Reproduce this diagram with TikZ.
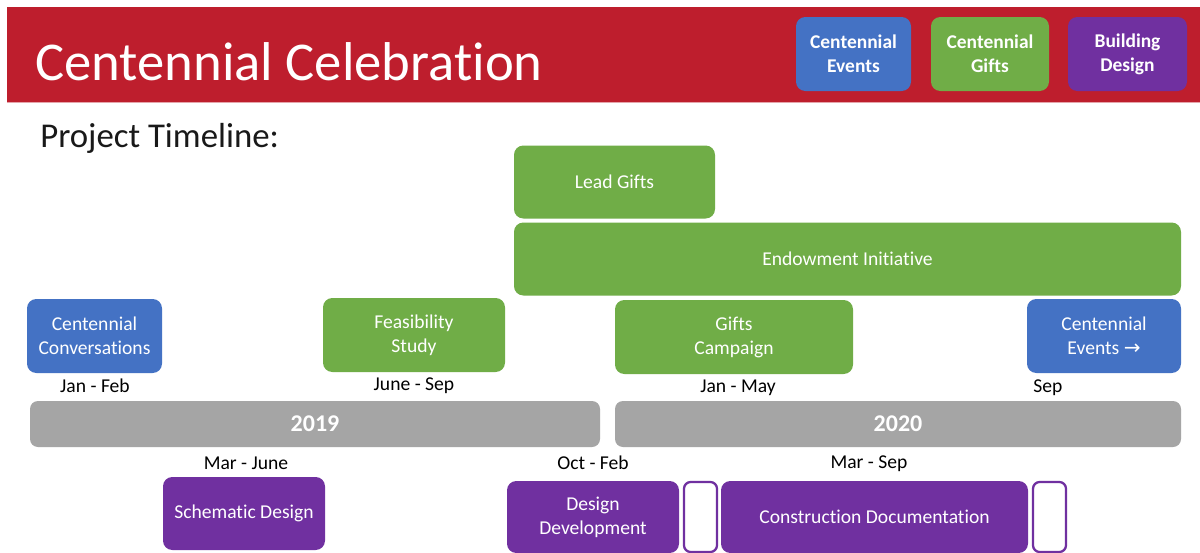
\documentclass[tikz,border=0pt]{standalone}
\usepackage{fontspec}
\setmainfont[Ligatures={NoCommon}]{Carlito}
\newfontfamily\djv{DejaVu Sans}
\definecolor{cred}{HTML}{BE1E2D}
\definecolor{cblue}{HTML}{4472C4}
\definecolor{cgreen}{HTML}{70AD47}
\definecolor{cpurple}{HTML}{7030A0}
\definecolor{cgray}{HTML}{A5A5A5}
\tikzset{
  bx/.style={rounded corners=7pt, inner sep=0pt, align=center, text=white,
    font=\fontsize{14.7}{18}\selectfont},
  bluebox/.style={bx, fill=cblue},
  greenbox/.style={bx, fill=cgreen},
  purplebox/.style={bx, fill=cpurple},
  outlinebox/.style={rounded corners=5pt, inner sep=0pt, draw=cpurple, line width=1.7pt, fill=white},
  legend/.style={bx, font=\fontsize{14.6}{18}\selectfont\bfseries},
  yearbar/.style={rounded corners=6pt, inner sep=0pt, fill=cgray, text=white,
    font=\fontsize{18}{22}\selectfont\bfseries},
  datelbl/.style={inner sep=0pt, text=black, font=\fontsize{14.7}{18}\selectfont},
}
\begin{document}
\begin{tikzpicture}[x=0.75pt, y=-0.75pt]
\useasboundingbox[fill=white] (0,0) rectangle (1200,553);
% banner
\fill[cred] (7,7) rectangle (1200,102);
\draw[color=cred!40, line width=0.75pt] (7,102.5) -- (1200,102.5);
\node[anchor=base west, inner sep=0pt, text=white, font=\fontsize{41}{48}\selectfont] (title) at (35,80) {Centennial Celebration};
% legend
\node[legend, fill=cblue, minimum width=115*0.75pt, minimum height=74*0.75pt] (legE) at (853.5,54) {Centennial\\Events};
\node[legend, fill=cgreen, minimum width=118*0.75pt, minimum height=74*0.75pt] (legG) at (990,54) {Centennial\\Gifts};
\node[legend, fill=cpurple, minimum width=119*0.75pt, minimum height=74*0.75pt] (legB) at (1127.5,54) {Building\\Design};
% subtitle
\node[anchor=base west, inner sep=0pt, text=black!90, font=\fontsize{26.1}{30}\selectfont] (sub) at (40,147) {Project Timeline:};
% gifts
\node[greenbox, minimum width=201*0.75pt, minimum height=73*0.75pt] (lead) at (614.5,182) {Lead Gifts};
\node[greenbox, minimum width=667*0.75pt, minimum height=73*0.75pt] (endow) at (847.5,259) {Endowment Initiative};
% upper row
\node[bluebox, minimum width=135*0.75pt, minimum height=74*0.75pt] (conv) at (94.5,336) {Centennial\\Conversations};
\node[greenbox, minimum width=182*0.75pt, minimum height=74*0.75pt] (feas) at (414,335) {Feasibility\\Study};
\node[greenbox, minimum width=238*0.75pt, minimum height=74*0.75pt] (camp) at (734,337) {Gifts\\Campaign};
\node[bluebox, minimum width=154*0.75pt, minimum height=74*0.75pt] (events) at (1104,336) {Centennial\\Events {\djv\fontsize{15}{18}\selectfont →}};
% date labels upper
\node[datelbl] (d1) at (95,386) {Jan - Feb};
\node[datelbl] (d2) at (414,386) {June - Sep};
\node[datelbl] (d3) at (738,388) {Jan - May};
\node[datelbl] (d4) at (1048,388) {Sep};
% year bars
\node[yearbar, minimum width=570*0.75pt, minimum height=46*0.75pt] (y2019) at (315,424) {2019};
\node[yearbar, minimum width=566*0.75pt, minimum height=46*0.75pt] (y2020) at (898,424) {2020};
% date labels lower
\node[datelbl] (d5) at (246,463) {Mar - June};
\node[datelbl] (d6) at (593,463) {Oct - Feb};
\node[datelbl] (d7) at (869,464) {Mar - Sep};
% design boxes
\node[purplebox, minimum width=162*0.75pt, minimum height=73*0.75pt] (schem) at (244,513.5) {Schematic Design};
\node[purplebox, minimum width=172*0.75pt, minimum height=72*0.75pt] (dd) at (593,517) {Design\\Development};
\node[outlinebox, minimum width=33*0.75pt, minimum height=70*0.75pt] (gap1) at (700.5,517) {};
\node[purplebox, minimum width=307*0.75pt, minimum height=72*0.75pt] (cd) at (874.5,517) {Construction Documentation};
\node[outlinebox, minimum width=33*0.75pt, minimum height=70*0.75pt] (gap2) at (1049.5,517) {};
\end{tikzpicture}
\end{document}
